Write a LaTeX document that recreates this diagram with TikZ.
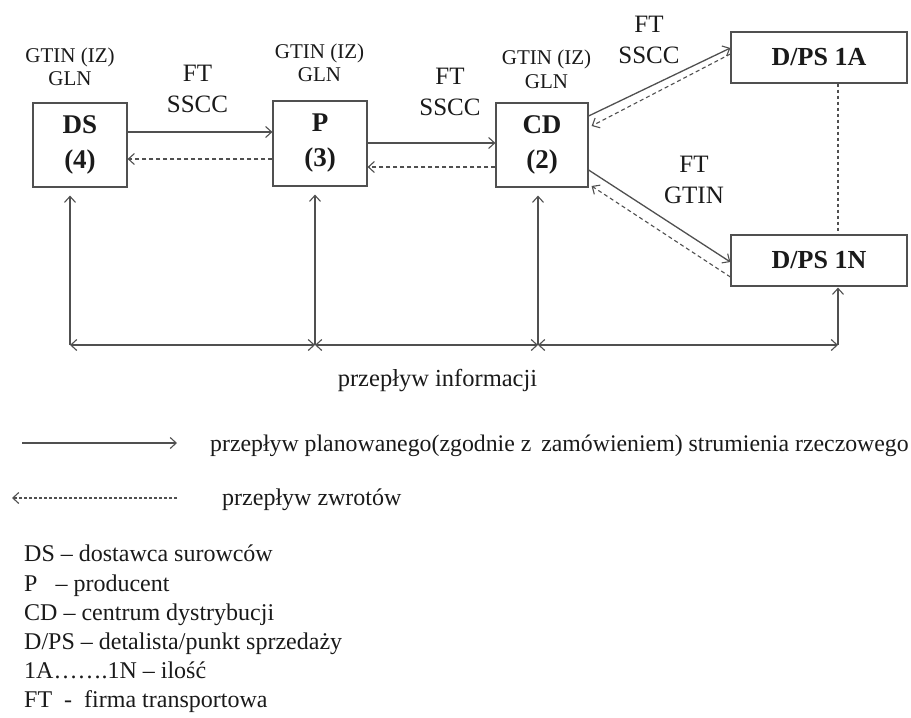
\documentclass[tikz,border=0pt]{standalone}
\usepackage{fontspec}
\setmainfont{Liberation Serif}
\usetikzlibrary{arrows.meta,calc}
\definecolor{ln}{HTML}{505050}
\definecolor{tx}{HTML}{1A1A1A}
\tikzset{
  box/.style={draw=ln,line width=1.2pt,minimum width=#1,inner sep=0pt,text=tx,font=\bfseries\fontsize{27}{35}\selectfont,align=center},
  box/.default=94pt,
  tip/.style={-{Straight Barb[length=6pt,width=11pt,line width=1.1pt]}},
  flow/.style={draw=ln,line width=1.3pt,tip},
  ret/.style={draw=ln,line width=1.1pt,dash pattern=on 4pt off 3pt,tip},
  info/.style={draw=ln,line width=1.2pt,{Straight Barb[length=6pt,width=11pt,line width=1.1pt]}-{Straight Barb[length=6pt,width=11pt,line width=1.1pt]}},
  code/.style={text=tx,font=\fontsize{21}{23.5}\selectfont,align=center,inner sep=0pt},
  ftl/.style={text=tx,font=\fontsize{25}{31}\selectfont,align=center,inner sep=0pt},
  leg/.style={text=tx,font=\fontsize{24}{29.2}\selectfont,inner sep=0pt,anchor=west}
}
\begin{document}
\begin{tikzpicture}[x=1pt,y=-1pt]
\useasboundingbox[fill=white] (0,0) rectangle (911,718);
% boxes
\node[box,minimum height=84pt] (DS) at (80,145) {DS\\(4)};
\node[box,minimum height=85pt] (P) at (320,143.5) {P\\(3)};
\node[box=92pt,minimum height=84pt] (CD) at (542,145) {CD\\(2)};
\node[box=176pt,minimum height=51pt,font=\bfseries\fontsize{26}{30}\selectfont] (A) at (819,57.5) {D/PS 1A};
\node[box=176pt,minimum height=51pt,font=\bfseries\fontsize{26}{30}\selectfont] (N) at (819,260.5) {D/PS 1N};
% codes above boxes
\node[code] (cDS) at (70,67) {GTIN (IZ)\\GLN};
\node[code] (cP) at (319.5,63) {GTIN (IZ)\\GLN};
\node[code] (cCD) at (546.5,69.5) {GTIN (IZ)\\GLN};
% FT labels
\node[ftl] (f1) at (197.5,89) {FT\\SSCC};
\node[ftl] (f2) at (450,92) {FT\\SSCC};
\node[ftl] (f3) at (649,40) {FT\\SSCC};
\node[ftl] (f4) at (694,180) {FT\\GTIN};
% flows
\draw[flow] ([yshift=13pt]DS.east) -- ([yshift=11.5pt]P.west);
\draw[ret] ([yshift=-15.5pt]P.west) -- ([yshift=-14pt]DS.east);
\draw[flow] ([yshift=0.5pt]P.east) -- ([yshift=2pt]CD.west);
\draw[ret] ([yshift=-22pt]CD.west) -- ([yshift=-23.5pt]P.east);
\draw[flow] ([yshift=29pt]CD.east) -- ([yshift=9.5pt]A.west);
\draw[ret] ([yshift=3.5pt]A.west) -- ([xshift=3pt,yshift=19pt]CD.east);
\draw[flow] ([yshift=-25pt]CD.east) -- ([yshift=-1.5pt]N.west);
\draw[ret] ([yshift=-16.5pt]N.west) -- ([xshift=3pt,yshift=-41pt]CD.east);
\draw[ln,line width=1.1pt,dash pattern=on 3pt off 3pt] (A.south -| 838,0) -- (N.north -| 838,0);
% information flow
\coordinate (h1) at (70,345);
\coordinate (h2) at (315,345);
\coordinate (h3) at (538,345);
\coordinate (h4) at (838,345);
\draw[flow,shorten >=8pt] (h1) -- (h1 |- DS.south);
\draw[flow,shorten >=8pt] (h2) -- (h2 |- P.south);
\draw[flow,shorten >=8pt] (h3) -- (h3 |- CD.south);
\draw[flow,shorten >=1pt] (h4) -- (h4 |- N.south);
\draw[info] (h1) -- (h2);
\draw[info] (h2) -- (h3);
\draw[info] (h3) -- (h4);
\node[text=tx,font=\fontsize{24.5}{29}\selectfont,inner sep=0pt] (pi) at (437.5,381) {przepływ informacji};
% legend
\coordinate (la1) at (22,443);
\coordinate (la2) at (177,443);
\draw[flow] (la1) -- (la2);
\node[leg,font=\fontsize{23.8}{29}\selectfont] (lt1) at (210,446) {przepływ planowanego(zgodnie z\, zamówieniem) strumienia rzeczowego};
\coordinate (lb1) at (177,498);
\coordinate (lb2) at (12,498);
\draw[ln,line width=1.1pt,dash pattern=on 3pt off 2pt,tip] (lb1) -- (lb2);
\node[leg] (lt2) at (222,500) {przepływ zwrotów};
\node[leg,anchor=north west,align=left] (list) at (24,545) {DS – dostawca surowców\\
P\hspace{0.75em}– producent\\
CD – centrum dystrybucji\\
D/PS – detalista/punkt sprzedaży\\
1A…….1N – ilość\\
FT\ \ -\ \ firma transportowa};
\end{tikzpicture}
\end{document}
